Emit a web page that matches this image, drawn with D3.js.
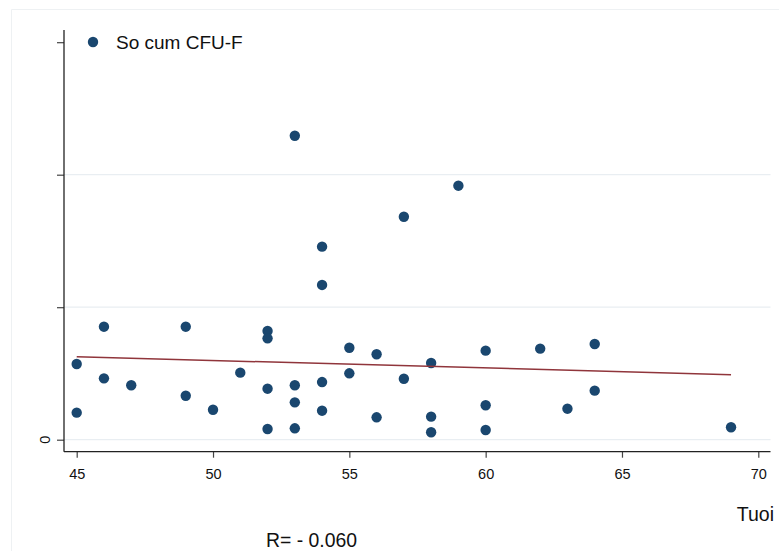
<!DOCTYPE html>
<html>
<head>
<meta charset="utf-8">
<script src="https://cdn.jsdelivr.net/npm/d3@7/dist/d3.min.js"></script>
<style>
  html, body { margin: 0; padding: 0; background: #ffffff; }
  svg { display: block; font-family: "Liberation Sans", Arial, sans-serif; }
</style>
</head>
<body>
<script>
// Age (Tuoi) of each subject and the CFU-F colony count measured
const ages = [45, 45, 46, 46, 47, 49, 49, 50, 51, 52, 52, 52, 52, 53, 53, 53, 53,
              54, 54, 54, 54, 55, 55, 56, 56, 57, 57, 58, 58, 58, 59, 60, 60, 60,
              62, 63, 64, 64, 69];
const cfuCounts = [5.71, 2.04, 8.53, 4.63, 4.11, 8.53, 3.32, 2.26, 5.06, 8.20, 7.65, 3.85, 0.81,
                   22.94, 4.11, 2.82, 0.86, 14.57, 11.68, 4.35, 2.19, 6.94, 5.01, 6.45, 1.69,
                   16.83, 4.60, 5.79, 1.74, 0.56, 19.17, 6.72, 2.60, 0.73, 6.87, 2.34, 7.22,
                   3.70, 0.94];

// Linear fit line, evaluated at the youngest and oldest ages
const fitAges = [45, 69];
const fitValues = [6.26, 4.91];

const xTicks = [45, 50, 55, 60, 65, 70];
const yTicks = [0, 10, 20, 30];
const yTickLabels = ["0", "", "", ""];

const legendLabel = "So cum CFU-F";
const xTitle = "Tuoi";
const note = "R= - 0.060";

const W = 779, H = 551;
const navy = "#1a476f", maroon = "#90353b";

const svg = d3.select("body").append("svg")
  .attr("width", W).attr("height", H);

// faint outer region frame (top and left edges)
svg.append("line").attr("x1", 11.5).attr("x2", W).attr("y1", 9.5).attr("y2", 9.5)
  .attr("stroke", "#eef1f3").attr("stroke-width", 1);
svg.append("line").attr("x1", 11.5).attr("x2", 11.5).attr("y1", 9.5).attr("y2", H)
  .attr("stroke", "#eef1f3").attr("stroke-width", 1);

const x = d3.scaleLinear().domain([45, 70]).range([76.7, 758.3]);
const y = d3.scaleLinear().domain([0, 30]).range([439.7, 42.2]);

const plotLeft = 64, plotRight = 770.5, plotTop = 30, plotBottom = 451.7;

// horizontal grid lines (not on the top tick)
svg.append("g").selectAll("line")
  .data(yTicks.slice(0, 3))
  .join("line")
  .attr("x1", plotLeft).attr("x2", plotRight)
  .attr("y1", d => y(d)).attr("y2", d => y(d))
  .attr("stroke", "#e9eef2").attr("stroke-width", 1.3);

// y axis: ticks from the axis generator, labels drawn vertically
const yAxis = d3.axisLeft(y).tickValues(yTicks).tickSize(7).tickFormat("");
const gy = svg.append("g").attr("transform", `translate(${plotLeft},0)`).call(yAxis);
gy.select(".domain").remove();
gy.selectAll(".tick line").attr("stroke", "#444").attr("stroke-width", 1.2);
svg.append("g").selectAll("text")
  .data(yTicks.map((t, i) => ({ t, label: yTickLabels[i] })).filter(d => d.label !== ""))
  .join("text")
  .attr("transform", d => `translate(${plotLeft - 14},${y(d.t)}) rotate(-90)`)
  .attr("text-anchor", "middle")
  .attr("font-size", 14.5).attr("fill", "#111")
  .text(d => d.label);
svg.append("line").attr("x1", plotLeft).attr("x2", plotLeft)
  .attr("y1", plotTop).attr("y2", plotBottom)
  .attr("stroke", "#222").attr("stroke-width", 1.3);

// x axis
const xAxis = d3.axisBottom(x).tickValues(xTicks).tickSize(6).tickFormat(d3.format("d"));
const gx = svg.append("g").attr("transform", `translate(0,${plotBottom})`).call(xAxis);
gx.select(".domain").remove();
gx.selectAll(".tick line").attr("stroke", "#444").attr("stroke-width", 1.2);
gx.selectAll(".tick text").attr("font-size", 14.5).attr("fill", "#111")
  .attr("y", 27.6).attr("dy", 0);
svg.append("line").attr("x1", plotLeft).attr("x2", plotRight)
  .attr("y1", plotBottom).attr("y2", plotBottom)
  .attr("stroke", "#222").attr("stroke-width", 1.3);

// scatter points
const points = ages.map((a, i) => ({ age: a, value: cfuCounts[i] }));
svg.append("g").selectAll("circle")
  .data(points)
  .join("circle")
  .attr("cx", d => x(d.age)).attr("cy", d => y(d.value))
  .attr("r", 5.2).attr("fill", navy);

// fitted line
const fit = fitAges.map((a, i) => [a, fitValues[i]]);
svg.append("path")
  .datum(fit)
  .attr("d", d3.line().x(d => x(d[0])).y(d => y(d[1])))
  .attr("fill", "none").attr("stroke", maroon).attr("stroke-width", 1.5);

// legend
svg.append("circle").attr("cx", 93).attr("cy", 42).attr("r", 5.2).attr("fill", navy);
svg.append("text").attr("x", 116).attr("y", 49)
  .attr("font-size", 19).attr("fill", "#111").text(legendLabel);

// axis title
svg.append("text").attr("x", 774).attr("y", 521).attr("text-anchor", "end")
  .attr("font-size", 19.5).attr("fill", "#111").text(xTitle);

// correlation note
svg.append("text").attr("x", 266).attr("y", 547)
  .attr("font-size", 19.4).attr("fill", "#111").text(note);
</script>
</body>
</html>
